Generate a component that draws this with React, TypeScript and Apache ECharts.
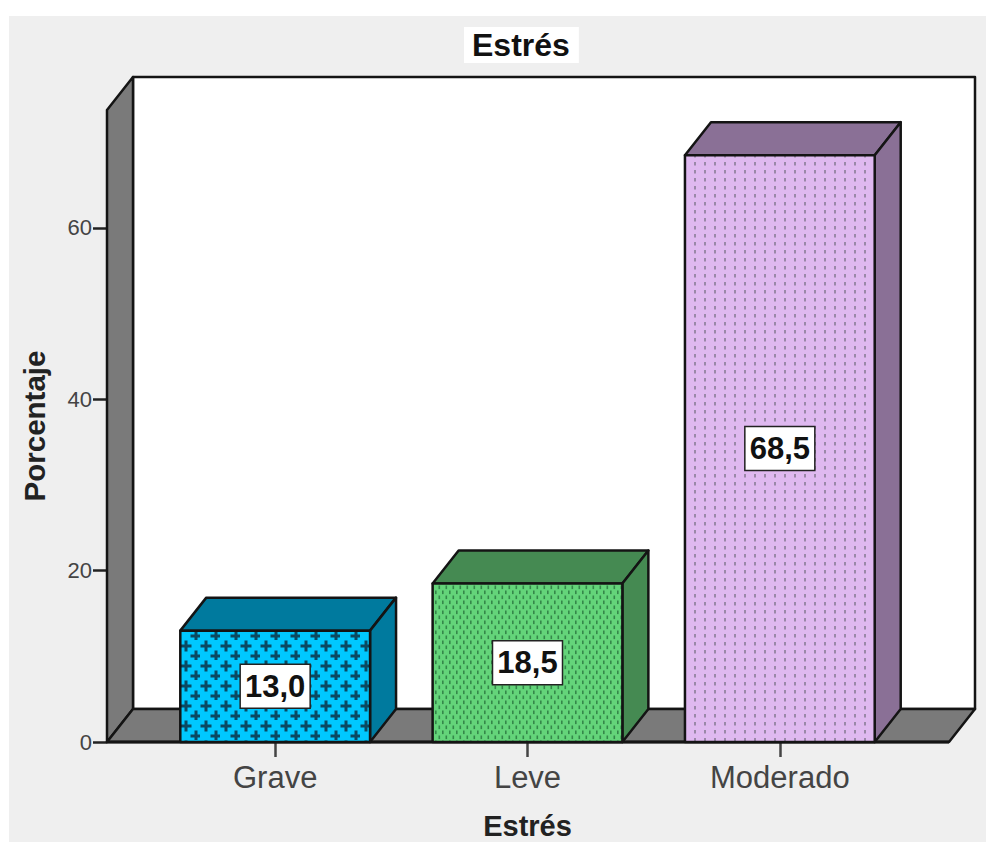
import React, { useEffect, useRef } from "react";
import * as echarts from "echarts";

const categories = ["Grave", "Leve", "Moderado"];
const percentages = [13.0, 18.5, 68.5];
const yTicks = [0, 20, 40, 60];
const yMax = 73.77;

const FONT = "'Liberation Sans', Arial, sans-serif";
const LINE = "#141414";
const DEPTH_X = 26;
const DEPTH_Y = 33;

type Tile = { w: number; h: number; base: string; draw: (c: CanvasRenderingContext2D) => void };

function makePattern(t: Tile) {
  const canvas = document.createElement("canvas");
  canvas.width = t.w;
  canvas.height = t.h;
  const c = canvas.getContext("2d")!;
  c.fillStyle = t.base;
  c.fillRect(0, 0, t.w, t.h);
  t.draw(c);
  return { type: "pattern", image: canvas, repeat: "repeat" } as any;
}

function plus(c: CanvasRenderingContext2D, x: number, y: number) {
  c.fillRect(x - 5.5, y - 1.5, 11, 3);
  c.fillRect(x - 1.5, y - 5.5, 3, 11);
}

const tiles: Tile[] = [
  {
    w: 20, h: 20, base: "#00C8FF",
    draw: (c) => {
      c.fillStyle = "#0B4A62";
      plus(c, 6, 6);
      plus(c, 16, 16);
    },
  },
  {
    w: 7, h: 10, base: "#64D47A",
    draw: (c) => {
      c.fillStyle = "#35874A";
      c.fillRect(1, 0.5, 1.6, 3.6);
      c.fillRect(4.5, 5.5, 1.6, 3.6);
    },
  },
  {
    w: 10, h: 8, base: "#DFB9F0",
    draw: (c) => {
      c.fillStyle = "#9A88A8";
      c.fillRect(4, 2, 2, 3.5);
    },
  },
];
const sideColors = ["#007A9E", "#458A52", "#8A7096"];

export default function App() {
  const ref = useRef<HTMLDivElement>(null);
  useEffect(() => {
    const chart = echarts.init(ref.current!, undefined, { renderer: "svg" });
    const patterns = tiles.map(makePattern);
    const edge = { stroke: LINE, lineWidth: 2.5, lineJoin: "round" as const };

    chart.setOption({
      animation: false,
      backgroundColor: "#FFFFFF",
      textStyle: { fontFamily: FONT },
      graphic: [
        {
          type: "rect", z: -10, silent: true,
          shape: { x: 9, y: 16, width: 977, height: 826 },
          style: { fill: "#EFEFEF" },
        },
      ],
      title: {
        text: "Estrés",
        left: 464, top: 28,
        padding: [2, 9, 2, 8],
        backgroundColor: "#FFFFFF",
        textStyle: { fontFamily: FONT, fontWeight: "bold", fontSize: 32, color: "#111", lineHeight: 30 },
      },
      grid: { left: 149, top: 110, width: 757, height: 632, outerBoundsMode: "none" },
      xAxis: {
        type: "category",
        data: categories,
        name: "Estrés",
        nameLocation: "middle",
        nameGap: 69,
        nameTextStyle: { fontFamily: FONT, fontWeight: "bold", fontSize: 29, lineHeight: 29, color: "#222" },
        axisLine: { show: false },
        axisTick: { show: true, alignWithLabel: true, length: 15, lineStyle: { color: "#444", width: 2.5 } },
        axisLabel: { fontFamily: FONT, fontSize: 31, color: "#444", margin: 20 },
      },
      yAxis: {
        type: "value",
        min: 0,
        max: yMax,
        offset: 42,
        name: "Porcentaje",
        nameLocation: "middle",
        nameGap: 58,
        nameTextStyle: { fontFamily: FONT, fontWeight: "bold", fontSize: 29.5, color: "#222" },
        splitLine: { show: false },
        axisLine: { show: false },
        axisTick: { show: true, length: 14, customValues: yTicks, lineStyle: { color: "#222", width: 2.5 } },
        axisLabel: { fontFamily: FONT, fontSize: 22, color: "#444", margin: 15, customValues: yTicks },
      },
      series: [
        {
          type: "custom",
          z: 1,
          silent: true,
          clip: false,
          data: [[0, 0]],
          renderItem: (params: any, api: any) => {
            const cs = params.coordSys;
            const xl = cs.x - 42;
            const xr = cs.x + cs.width + 43;
            const yb = api.coord([0, 0])[1];
            const yt = cs.y;
            const gray = { fill: "#7A7A7A", ...edge };
            return {
              type: "group",
              children: [
                {
                  type: "polygon",
                  shape: { points: [[xl + DEPTH_X, yt - DEPTH_Y], [xr + DEPTH_X, yt - DEPTH_Y], [xr + DEPTH_X, yb - DEPTH_Y], [xl + DEPTH_X, yb - DEPTH_Y]] },
                  style: { fill: "#FFFFFF", ...edge },
                },
                {
                  type: "polygon",
                  shape: { points: [[xl, yt], [xl + DEPTH_X, yt - DEPTH_Y], [xl + DEPTH_X, yb - DEPTH_Y], [xl, yb]] },
                  style: gray,
                },
                {
                  type: "polygon",
                  shape: { points: [[xl, yb], [xl + DEPTH_X, yb - DEPTH_Y], [xr + DEPTH_X, yb - DEPTH_Y], [xr, yb]] },
                  style: gray,
                },
                {
                  type: "line",
                  shape: { x1: xl, y1: yb, x2: xr, y2: yb },
                  style: { stroke: LINE, lineWidth: 3 },
                },
              ],
            };
          },
        },
        {
          type: "custom",
          z: 2,
          silent: true,
          clip: false,
          data: percentages.map((v, i) => [i, v]),
          encode: { x: 0, y: 1 },
          renderItem: (params: any, api: any) => {
            const i = params.dataIndex;
            const top = api.coord([api.value(0), api.value(1)]);
            const base = api.coord([api.value(0), 0]);
            const w = api.size([1, 0])[0] * 0.752;
            const x0 = top[0] - w / 2;
            const x1 = top[0] + w / 2;
            const yt = top[1];
            const yb = base[1];
            const side = { fill: sideColors[i], ...edge };
            const cy = (yt + yb) / 2;
            return {
              type: "group",
              children: [
                {
                  type: "polygon",
                  shape: { points: [[x0, yt], [x0 + DEPTH_X, yt - DEPTH_Y], [x1 + DEPTH_X, yt - DEPTH_Y], [x1, yt]] },
                  style: side,
                },
                {
                  type: "polygon",
                  shape: { points: [[x1, yt], [x1 + DEPTH_X, yt - DEPTH_Y], [x1 + DEPTH_X, yb - DEPTH_Y], [x1, yb]] },
                  style: side,
                },
                {
                  type: "rect",
                  shape: { x: x0, y: yt, width: w, height: yb - yt },
                  style: { fill: patterns[i], ...edge },
                },
                {
                  type: "rect",
                  shape: { x: top[0] - 35, y: cy - 22, width: 70, height: 44 },
                  style: { fill: "#FFFFFF", stroke: "#222", lineWidth: 1.5 },
                },
                {
                  type: "text",
                  x: top[0],
                  y: cy,
                  style: {
                    text: percentages[i].toFixed(1).replace(".", ","),
                    align: "center",
                    verticalAlign: "middle",
                    fontFamily: FONT,
                    fontSize: 31,
                    fontWeight: "bold",
                    fill: "#111",
                  },
                },
              ],
            };
          },
        },
      ],
    });
    return () => chart.dispose();
  }, []);
  return <div ref={ref} style={{ position: "fixed", left: 0, top: 0, width: 986, height: 842 }} />;
}
